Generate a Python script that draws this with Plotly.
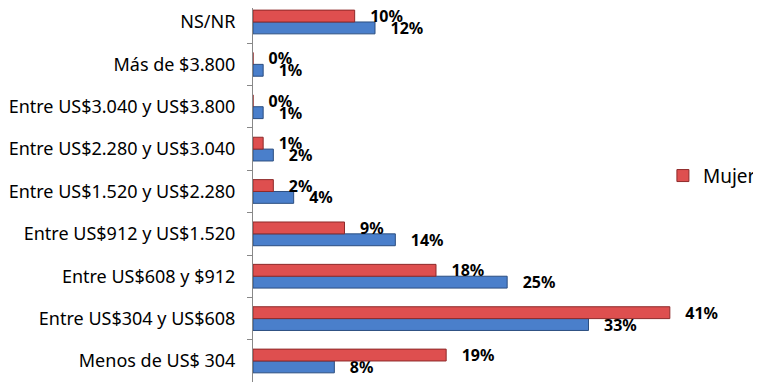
import plotly.graph_objects as go

categories = ["Menos de US$ 304", "Entre US$304 y US$608", "Entre US$608 y $912",
              "Entre US$912 y US$1.520", "Entre US$1.520 y US$2.280",
              "Entre US$2.280 y US$3.040", "Entre US$3.040 y US$3.800",
              "Más de $3.800", "NS/NR"]
hombre = [8, 33, 25, 14, 4, 2, 1, 1, 12]
mujer = [19, 41, 18, 9, 2, 1, 0, 0, 10]

lblfont = dict(family="Noto Sans", size=16, color="black", weight="bold")

fig = go.Figure()
fig.add_trace(go.Bar(
    y=categories, x=hombre, orientation="h", name="Hombre", showlegend=False,
    marker=dict(color="#4A7FCB", line=dict(color="#2B4E80", width=1)),
    text=[f"   {v}%" for v in hombre], textposition="outside",
    textfont=lblfont, constraintext="none", cliponaxis=False,
))
fig.add_trace(go.Bar(
    y=categories, x=mujer, orientation="h", name="Mujer",
    marker=dict(color="#DE4F4F", line=dict(color="#8E2A2A", width=1)),
    text=[f"   {v}%" for v in mujer], textposition="outside",
    textfont=lblfont, constraintext="none", cliponaxis=False,
))
fig.update_layout(
    width=761, height=382, barmode="group", bargap=0.44, bargroupgap=0.0,
    margin=dict(l=245, r=89, t=0, b=0, autoexpand=False),
    paper_bgcolor="white", plot_bgcolor="white",
    font=dict(family="Noto Sans", size=18, color="black"),
    legend=dict(x=0.96, y=0.561, xanchor="left", yanchor="middle",
                itemwidth=30, font=dict(size=19), bgcolor="rgba(0,0,0,0)"),
    xaxis=dict(range=[0, 42], visible=False),
    yaxis=dict(type="category", categoryorder="array", categoryarray=categories,
               range=[-0.685, 8.330], autorange=False,
               showline=True, linecolor="#888888", linewidth=1,
               ticks="outside", ticklen=5, tickcolor="#888888",
               tickson="boundaries", showgrid=False, ticklabelstandoff=13,
               tickfont=dict(family="Noto Sans", size=18, color="black")),
)
fig.write_html("out.html")
